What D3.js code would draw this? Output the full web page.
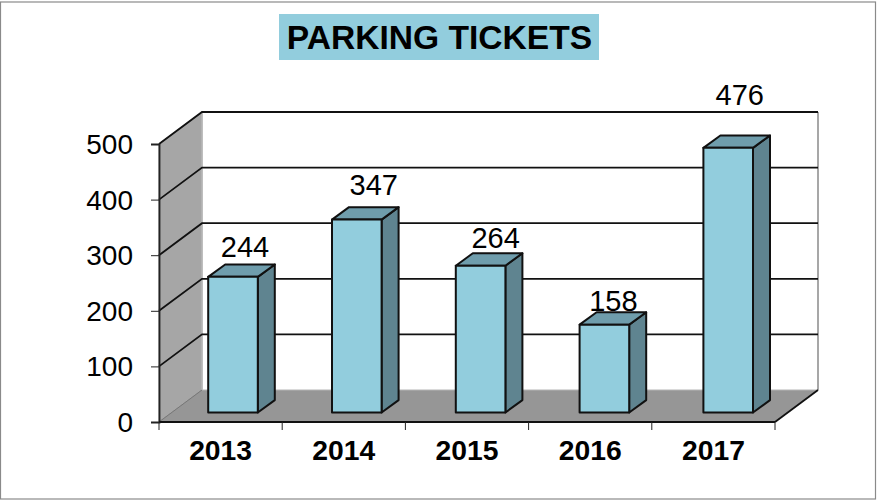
<!DOCTYPE html>
<html><head><meta charset="utf-8">
<script src="https://cdn.jsdelivr.net/npm/d3@7"></script>
<style>html,body{margin:0;padding:0;background:#fff}svg{display:block}text{font-family:"Liberation Sans",Arial,sans-serif;fill:#000}</style>
</head><body><svg id="c" width="877" height="500"></svg>
<script>
const categories = ["2013","2014","2015","2016","2017"];
const tickets = [244,347,264,158,476];
const yTicks = [0,100,200,300,400,500];
const chartTitle = "PARKING TICKETS";

const svg = d3.select("#c");
const L={x0:159,x1:775,y0:422,y1:144,dx:43,dy:32};
const barOff={dx:12.5,dy:9.5,sx:17,sy:12.4};
const labelNudgeY=[-20,-24.5,-18,-14,-43];
const labelNudgeX=[12,17,15,9,11.5];
const x=d3.scaleBand().domain(categories).range([L.x0,L.x1]);
const xBar=d3.scaleBand().domain(categories).range([L.x0,L.x0+619]);
const y=d3.scaleLinear().domain([0,500]).range([L.y0,L.y1]);
const pts=a=>a.map(p=>p.join(",")).join(" ");

svg.append("rect").attr("x",0.5).attr("y",2).attr("width",875).attr("height",497).attr("fill","#fff").attr("stroke","#8a8a8a").attr("stroke-width",1.2);

// title
svg.append("rect").attr("x",279).attr("y",14).attr("width",320).attr("height",46).attr("fill","#92cddd");
svg.append("text").attr("x",439.5).attr("y",48.5).attr("text-anchor","middle").attr("font-size",33.6).attr("font-weight","bold").text(chartTitle);

// walls
svg.append("polygon").attr("points",pts([[L.x0,y(0)],[L.x0+L.dx,y(0)-L.dy],[L.x0+L.dx,y(500)-L.dy],[L.x0,y(500)]]))
  .attr("fill","#a6a6a6").attr("stroke","#8a8a8a").attr("stroke-width",1);
svg.append("polygon").attr("points",pts([[L.x0,y(0)],[L.x1,y(0)],[L.x1+L.dx,y(0)-L.dy],[L.x0+L.dx,y(0)-L.dy]]))
  .attr("fill","#969696");
svg.append("line").attr("x1",L.x0+L.dx).attr("x2",L.x1+L.dx).attr("y1",y(0)-L.dy).attr("y2",y(0)-L.dy).attr("stroke","#b4b4b4").attr("stroke-width",1);
svg.append("line").attr("x1",L.x0+L.dx).attr("x2",L.x0+L.dx).attr("y1",y(500)-L.dy).attr("y2",y(0)-L.dy).attr("stroke","#bcbcbc").attr("stroke-width",1.5);
svg.append("line").attr("x1",L.x1+L.dx).attr("x2",L.x1+L.dx).attr("y1",y(500)-L.dy).attr("y2",y(0)-L.dy).attr("stroke","#8a8a8a").attr("stroke-width",1.5);

// gridlines
yTicks.slice(1).forEach(t=>{
  svg.append("polyline").attr("fill","none").attr("stroke","#111").attr("stroke-width",1.8)
    .attr("points",pts([[L.x0,y(t)],[L.x0+L.dx,y(t)-L.dy],[L.x1+L.dx,y(t)-L.dy]]));
});
svg.append("line").attr("x1",L.x0).attr("y1",y(0)).attr("x2",L.x0+L.dx).attr("y2",y(0)-L.dy).attr("stroke","#777").attr("stroke-width",1);
svg.append("line").attr("x1",L.x1).attr("y1",y(0)).attr("x2",L.x1+L.dx).attr("y2",y(0)-L.dy).attr("stroke","#111").attr("stroke-width",1.8);

// axes
const yAxis=d3.axisLeft(y).tickValues(yTicks).tickSize(8).tickPadding(3);
const ga=svg.append("g").attr("transform",`translate(${L.x0},0)`).call(yAxis);
ga.select(".domain").attr("stroke","#222").attr("stroke-width",1.8);
ga.selectAll(".tick line").attr("stroke","#222").attr("stroke-width",1);
ga.selectAll("text").attr("font-size",28).attr("font-family",'"Liberation Sans",Arial,sans-serif').attr("x",-26).attr("dy",".34em");

const xAxis=d3.axisBottom(x).tickSize(0).tickPadding(18);
const gx=svg.append("g").attr("transform",`translate(0,${L.y0})`).call(xAxis);
gx.select(".domain").attr("d",`M${L.x0},0H${L.x1}`).attr("stroke","#111").attr("stroke-width",2.2);
gx.selectAll("text").attr("font-size",28.3).attr("font-weight","bold").attr("font-family",'"Liberation Sans",Arial,sans-serif').attr("dy","0.71em");
[...categories.map(c=>x(c)),L.x1].forEach(px=>{
  gx.append("line").attr("x1",px).attr("x2",px).attr("y1",0).attr("y2",8).attr("stroke","#222").attr("stroke-width",1);
});

// bars
const bw=49.6;
const bars=svg.append("g").selectAll("g").data(tickets).join("g");
bars.each(function(v,i){
  const g=d3.select(this);
  const cx=xBar(categories[i])+xBar.bandwidth()/2+barOff.dx-.4;
  const l=cx-bw/2,r=cx+bw/2;
  const base=y(0)-barOff.dy, top=y(v)-barOff.dy;
  const s={stroke:"#111","stroke-width":2,"stroke-linejoin":"round"};
  const poly=(p,f)=>{const e=g.append("polygon").attr("points",pts(p)).attr("fill",f);Object.entries(s).forEach(([k,w])=>e.attr(k,w));};
  poly([[r,base],[r+barOff.sx,base-barOff.sy],[r+barOff.sx,top-barOff.sy],[r,top]],"#5f8490");
  poly([[l,top],[r,top],[r+barOff.sx,top-barOff.sy],[l+barOff.sx,top-barOff.sy]],"#6f9dac");
  poly([[l,base],[r,base],[r,top],[l,top]],"#92cddd");
  g.append("text").attr("x",cx+labelNudgeX[i]).attr("y",top+labelNudgeY[i]).attr("text-anchor","middle").attr("font-size",29).text(v);
});
</script></body></html>
